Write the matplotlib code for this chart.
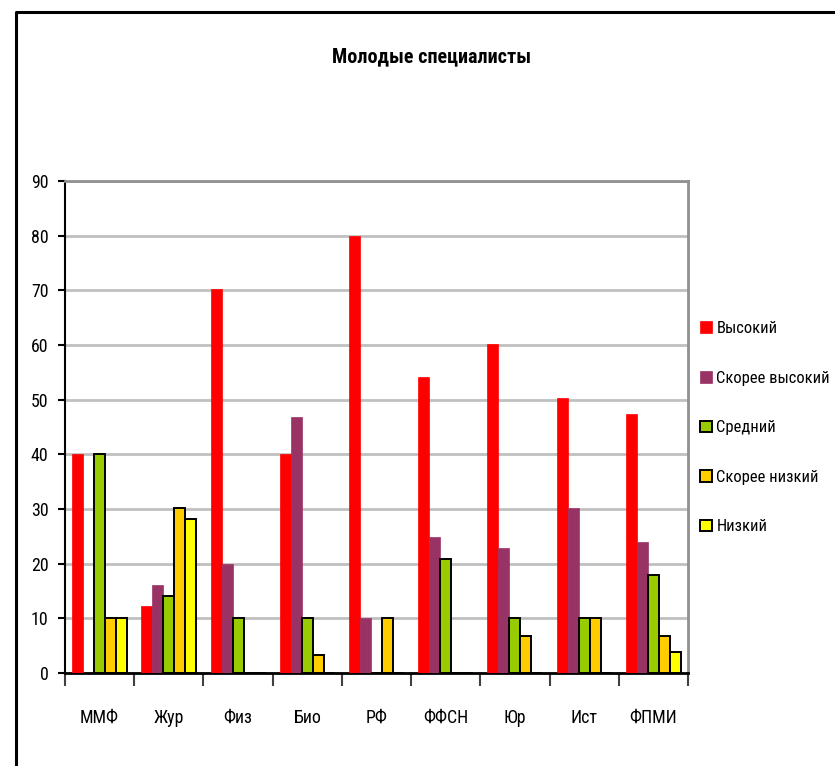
import matplotlib
matplotlib.use("Agg")
import matplotlib.pyplot as plt
import numpy as np
from matplotlib import font_manager as fm

categories = ["ММФ", "Жур", "Физ", "Био", "РФ", "ФФСН", "Юр", "Ист", "ФПМИ"]
series_names = ["Высокий", "Скорее высокий", "Средний", "Скорее низкий", "Низкий"]
vysokiy = [40, 12.3, 70.3, 40, 80, 54.2, 60.1, 50.3, 47.4]
skoree_vysokiy = [0, 16.1, 20, 46.9, 10, 24.9, 22.9, 30.2, 24.0]
sredniy = [40, 14, 10, 10, 0, 20.9, 10, 10, 18]
skoree_nizkiy = [10, 30.2, 0, 3.3, 10, 0, 6.7, 10, 6.7]
nizkiy = [10, 28.2, 0, 0, 0, 0, 0, 0, 3.8]
yticks = list(range(0, 91, 10))

colors = ["#FF0000", "#993366", "#99CC00", "#FFCC00", "#FFFF00"]
edges = [None, None, "black", "black", "black"]

# pick a narrow font if one is installed
family, stretch = "Liberation Sans", "normal"
cands = []
for f in fm.fontManager.ttflist:
    n = f.name
    st = str(f.stretch)
    narrowish = ("Narrow" in n or "Condensed" in n or st in ("condensed", "semi-condensed", "extra-condensed")
                 or (st.isdigit() and int(st) < 500))
    if narrowish and any(k in n for k in ("Liberation", "DejaVu", "Noto Sans", "Roboto", "Open Sans", "Lato", "Inter")) \
            and "CJK" not in n and "Mono" not in n and "Serif" not in n:
        cands.append((n, st))
pref = ["Liberation Sans Narrow", "Roboto Condensed", "Noto Sans", "DejaVu Sans", "Open Sans", "Roboto"]
chosen = None
for p in pref:
    for n, st in cands:
        if n == p:
            chosen = (n, st)
            break
    if chosen:
        break
if chosen is None and cands:
    chosen = cands[0]
if chosen:
    family = chosen[0]
    st = chosen[1]
    stretch = "normal" if ("Narrow" in family or "Condensed" in family) else (
        "condensed" if not st.isdigit() else int(st))
plt.rcParams["font.family"] = [family, "DejaVu Sans"]
plt.rcParams["font.stretch"] = stretch

fig = plt.figure(figsize=(8.35, 7.66), dpi=100)
renderer = fig.canvas.get_renderer()


def fit_size(text, target_px, weight="normal", base=15.0):
    t = fig.text(0, 0, text, fontsize=base, fontweight=weight, fontstretch=stretch)
    wpx = t.get_window_extent(renderer).width
    t.remove()
    return base * target_px / wpx


leg_fs = min(15.0, fit_size("Скорее высокий", 113))
tick_fs = min(15.0, fit_size("ФПМИ", 48))
title_fs = min(17.0, fit_size("Молодые специалисты", 198, weight="bold"))

# outer chart border (left and top edges visible)
fig.add_artist(plt.Line2D([16 / 835, 16 / 835, 1.0], [0.0, 1 - 12 / 766, 1 - 12 / 766],
                          transform=fig.transFigure, color="black", linewidth=2.2))

ax = fig.add_axes([65 / 835, 93 / 766, 623 / 835, 492 / 766])
data = [vysokiy, skoree_vysokiy, sredniy, skoree_nizkiy, nizkiy]
x = np.arange(len(categories))
w = 0.159
for j, (vals, c, e, nm) in enumerate(zip(data, colors, edges, series_names)):
    if e is None:
        ax.bar(x + (j - 2) * w, vals, width=w, color=c, edgecolor=c, linewidth=0.5,
               label=nm, zorder=3)
    else:
        ax.bar(x + (j - 2) * w, vals, width=w, color=c, edgecolor=e, linewidth=1.4,
               label=nm, zorder=3)

ax.set_xlim(-0.5, len(categories) - 0.5)
ax.set_ylim(0, 90)
ax.set_yticks(yticks)
ax.set_yticklabels([str(v) for v in yticks], fontsize=tick_fs)
ax.yaxis.grid(True, color="#C0C0C0", linewidth=2, zorder=0)
ax.set_axisbelow(True)
ax.set_xticks(np.arange(len(categories) + 1) - 0.5)
ax.set_xticklabels([])
ax.set_xticks(x, minor=True)
ax.set_xticklabels(categories, minor=True, fontsize=tick_fs)
ax.tick_params(axis="x", which="minor", length=0, pad=26)
ax.tick_params(axis="x", which="major", length=9, width=1.5, direction="out", color="#404040")
ax.tick_params(axis="y", length=5, width=1.5, direction="out", pad=7)
for s in ["top", "right"]:
    ax.spines[s].set_color("#909090")
    ax.spines[s].set_linewidth(2)
ax.spines["left"].set_color("black")
ax.spines["left"].set_linewidth(1.5)
ax.spines["bottom"].set_color("black")
ax.spines["bottom"].set_linewidth(2)

fig.text(432 / 835, 1 - 57 / 766, "Молодые специалисты", ha="center", va="center",
         fontsize=title_fs, fontweight="bold")

leg = fig.legend(loc="upper left", bbox_to_anchor=(700 / 835, 1 - 321 / 766),
                 frameon=False, fontsize=leg_fs, handlelength=0.7, handleheight=0.7,
                 handletextpad=0.3, labelspacing=2.1, borderaxespad=0, borderpad=0)

fig.savefig("out.png", dpi=100)
